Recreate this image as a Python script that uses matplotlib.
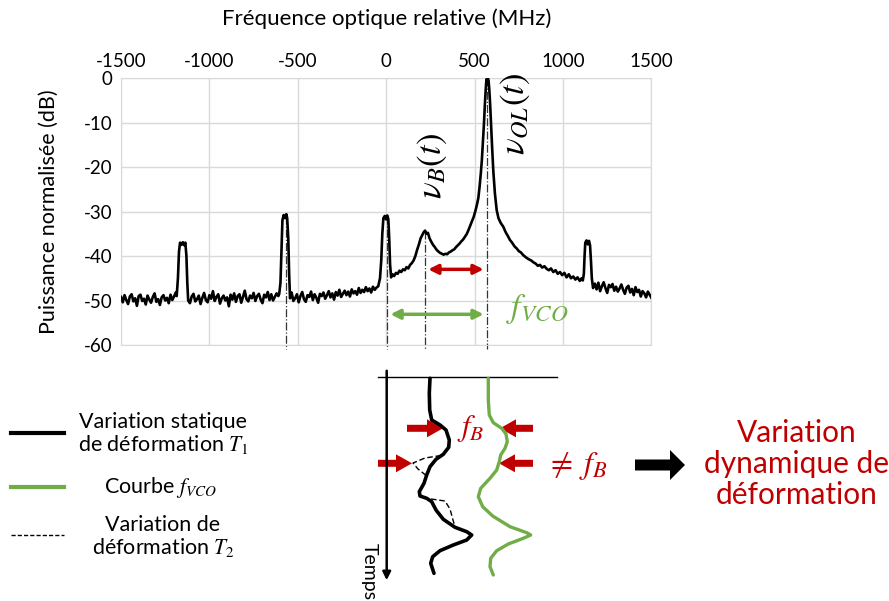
import numpy as np
import matplotlib.pyplot as plt
from matplotlib.patches import FancyArrow

plt.rcParams['font.family'] = ['Lato', 'DejaVu Sans']
plt.rcParams['mathtext.fontset'] = 'stix'
plt.rcParams['axes.unicode_minus'] = False

# spectre mesure (MHz, dB)
freq_a = list(range(-1500, -1189, 10))
db_a = [-49.2, -50.4, -48.8, -49.9, -50.8, -49.1, -48.6, -50.2, -49.5, -51.2, -49.0, -48.7,
        -50.1, -49.6, -50.9, -48.9, -49.8, -50.5, -49.2, -48.4, -50.3, -49.7, -51.0, -49.3,
        -48.8, -50.0, -49.4, -50.6, -48.7, -49.9, -49.1, -48.2]
freq_p1 = [-1185, -1178, -1172, -1166, -1158, -1150, -1142, -1136, -1130, -1125, -1120]
db_p1 = [-49.0, -45.0, -39.0, -37.0, -37.5, -36.9, -37.6, -37.0, -40.0, -46.0, -50.0]
freq_b = list(range(-1110, -609, 10))
db_b = [-50.6, -49.1, -48.5, -50.2, -49.7, -48.9, -50.8, -49.4, -48.3, -49.9, -50.4, -48.8,
        -49.6, -47.9, -50.1, -49.2, -48.6, -50.7, -49.5, -48.9, -50.0, -49.3, -51.3, -48.7,
        -49.8, -48.4, -50.3, -49.0, -48.6, -50.5, -49.2, -47.8, -49.7, -50.2, -48.9, -49.5,
        -48.3, -50.1, -49.0, -48.5, -49.8, -50.6, -48.7, -49.3, -48.1, -49.9, -48.6, -50.0,
        -49.2, -48.4, -49.0]
freq_p2 = [-605, -598, -592, -587, -580, -572, -565, -560, -554, -549, -544]
db_p2 = [-48.5, -46.0, -38.0, -32.0, -30.8, -31.5, -30.6, -31.5, -36.0, -44.0, -49.5]
freq_c = list(range(-535, -54, 10))
db_c = [-48.2, -50.1, -49.5, -48.6, -50.4, -49.0, -48.1, -49.7, -50.3, -48.8, -49.2, -48.0,
        -49.9, -48.6, -49.4, -50.5, -48.5, -49.0, -48.2, -49.6, -48.8, -47.9, -49.3, -48.4,
        -49.8, -48.1, -48.9, -47.6, -49.2, -48.5, -47.8, -48.8, -48.0, -49.1, -47.5, -48.4,
        -47.9, -48.7, -47.2, -48.3, -47.6, -48.1, -47.0, -47.9, -47.3, -48.2, -46.9, -47.6,
        -47.1]
freq_p3 = [-45, -35, -28, -22, -16, -8, 0, 6, 12, 17, 22, 28]
db_p3 = [-46.8, -45.0, -41.0, -35.0, -31.5, -31.0, -31.8, -30.9, -31.7, -36.0, -42.0, -44.8]
freq_d = [35, 45, 55, 65, 75, 85, 95, 105, 115, 125, 135, 145, 155, 165, 175, 185, 195, 205,
          213, 220, 228, 236, 245, 255, 265, 275, 285, 295, 305, 315, 325, 335, 345, 355, 365,
          375, 385, 395, 405, 415, 425, 435, 445, 455, 465, 475, 485, 495, 505, 513, 521, 528,
          535, 541, 547, 553, 558, 563, 567, 571, 575, 579, 583, 588, 593, 599, 606, 615, 625,
          635, 648, 662, 675, 688, 700, 712, 725, 738, 750, 762, 775, 790, 805, 820, 832, 845,
          858, 870, 882, 895, 908, 920, 932, 945, 958, 970, 983, 995, 1008, 1020, 1033, 1045,
          1058, 1070, 1082, 1095, 1105, 1112]
db_d = [-44.1, -44.5, -43.8, -44.0, -43.3, -43.6, -43.0, -43.2, -42.5, -42.8, -42.0, -41.6,
        -41.0, -40.0, -38.6, -37.4, -36.0, -35.2, -34.6, -34.3, -35.0, -34.8, -36.0, -36.8,
        -37.5, -38.0, -38.6, -39.0, -39.3, -39.5, -39.7, -39.5, -39.6, -39.2, -39.0, -38.7,
        -38.5, -38.0, -37.6, -37.2, -36.7, -36.3, -35.7, -35.1, -34.2, -33.2, -32.2, -31.2,
        -29.8, -28.5, -27.0, -24.5, -21.5, -18.5, -14.5, -10.2, -6.0, -2.5, -0.3, -0.8, 0.0,
        -0.6, -2.5, -6.0, -10.5, -15.5, -21.0, -26.0, -29.7, -31.5, -32.6, -33.4, -34.6,
        -35.5, -36.4, -37.0, -37.8, -38.3, -38.9, -39.2, -39.8, -40.3, -40.7, -41.0, -41.4,
        -41.7, -42.2, -42.0, -42.6, -42.3, -42.9, -43.2, -42.8, -43.6, -43.2, -44.0, -43.6,
        -44.3, -43.8, -44.8, -44.1, -45.0, -44.6, -45.3, -44.8, -45.6, -45.0, -45.5]
freq_p4 = [1118, 1122, 1126, 1133, 1140, 1147, 1153, 1158, 1163, 1170]
db_p4 = [-44.0, -40.0, -37.0, -36.5, -37.4, -36.6, -37.6, -41.0, -45.0, -47.2]
freq_e = list(range(1180, 1501, 10))
db_e = [-46.2, -47.5, -46.0, -47.9, -46.8, -45.9, -47.2, -48.3, -46.5, -47.0, -46.3, -47.8,
        -46.9, -48.0, -47.3, -46.4, -47.6, -48.5, -47.1, -46.7, -48.2, -47.4, -48.8, -47.0,
        -48.1, -47.6, -49.1, -47.9, -48.4, -49.3, -48.0, -48.7, -49.4]

freq = freq_a + freq_p1 + freq_b + freq_p2 + freq_c + freq_p3 + freq_d + freq_p4 + freq_e
puissance = db_a + db_p1 + db_b + db_p2 + db_c + db_p3 + db_d + db_p4 + db_e

# raies reperees (MHz, dB du sommet)
raies_f = [-568, 3, 219, 572]
raies_db = [-31, -31, -34.3, 0]

x_ticks = [-1500, -1000, -500, 0, 500, 1000, 1500]
y_ticks = [0, -10, -20, -30, -40, -50, -60]

# schema du bas (coordonnees du dessin)
t1_x = [430, 429.3, 429.7, 431.7, 440, 446, 449.3, 448.7, 443.3, 436, 430, 426.7, 424, 419.3,
        420, 426.7, 431.7, 436, 443.3, 455, 466.7, 471.7, 466.7, 453.3, 440, 432.7, 430.7, 434]
t1_y = [378.3, 393.3, 410, 420, 425, 430, 440, 447.3, 454.3, 459.3, 466.7, 475, 483.3, 491.7,
        496, 498.3, 501.7, 510, 519.3, 527.3, 531.7, 535, 540, 545, 550.7, 556.7, 563.3, 573.3]
vco_x = [488.3, 488.3, 489.3, 493.3, 501.7, 506, 507.3, 505, 500.7, 499.3, 496.7, 490, 480.7,
         478.3, 482.7, 492.7, 510, 526.7, 530.7, 523.3, 508.3, 496.7, 490.7, 490, 493.3]
vco_y = [378.3, 400, 415, 422.7, 428.3, 434, 441.7, 448.3, 455, 461.7, 470, 478.3, 488.3,
         496.7, 506.7, 516, 526.7, 532.7, 535, 538.3, 544, 550.7, 558.3, 566.7, 575]
t2a_x = [441, 425, 413, 418, 428]
t2a_y = [455.5, 458, 463, 469, 477]
t2b_x = [431, 445, 450, 453, 455]
t2b_y = [499, 501, 509, 520, 527]

rouge = '#C00000'
vert = '#70AD47'
gris = '#d9d9d9'

fig = plt.figure(figsize=(8.89, 6.01), dpi=100)
ax = fig.add_axes([121 / 889, 1 - 345 / 601, 530.4 / 889, 267 / 601])

ax.plot(freq, puissance, color='black', lw=1.9, zorder=3)
for f, d in zip(raies_f, raies_db):
    ax.plot([f, f], [d, -60.8], color='#333333', lw=0.9, ls='-.', clip_on=False, zorder=2)

ax.set_xlim(-1500, 1500)
ax.set_ylim(-60, 0)
ax.set_xticks(x_ticks)
ax.set_yticks(y_ticks)
ax.xaxis.tick_top()
ax.xaxis.set_label_position('top')
ax.tick_params(length=0, labelsize=13.5, pad=6)
ax.grid(color=gris, lw=1)
for s in ax.spines.values():
    s.set_color(gris)
ax.set_xlabel('Fréquence optique relative (MHz)', fontsize=16, labelpad=20)
ax.set_ylabel('Puissance normalisée (dB)', fontsize=15.5, labelpad=18)

ax.annotate('', xy=(222, -43), xytext=(567, -43),
            arrowprops=dict(arrowstyle='<|-|>', color=rouge, lw=2.5, mutation_scale=14))
ax.annotate('', xy=(8, -53.1), xytext=(567, -53.1),
            arrowprops=dict(arrowstyle='<|-|>', color=vert, lw=2.5, mutation_scale=14))
ax.text(259, -19.8, r'$\nu_B(t)$', rotation=90, fontsize=25, ha='center', va='center')
ax.text(728, -8.1, r'$\nu_{OL}(t)$', rotation=90, fontsize=25, ha='center', va='center')
ax.text(853, -51.9, r'$f_{VCO}$', color=vert, fontsize=24, ha='center', va='center')

# calque pour le schema et la legende
ov = fig.add_axes([0, 0, 1, 1])
ov.set_xlim(0, 889)
ov.set_ylim(601, 0)
ov.axis('off')

ov.plot([378, 557], [377.3, 377.3], color='black', lw=1)
ov.annotate('', xy=(386.7, 583), xytext=(386.7, 368),
            arrowprops=dict(arrowstyle='-|>', color='black', lw=1.8, mutation_scale=12))
ov.text(369, 572, 'Temps', rotation=-90, fontsize=14, ha='center', va='center')

ov.plot(t1_x, t1_y, color='black', lw=2.6, solid_joinstyle='round', solid_capstyle='round')
ov.plot(vco_x, vco_y, color=vert, lw=2.4, solid_joinstyle='round', solid_capstyle='round')
ov.plot(t2a_x, t2a_y, color='black', lw=1, ls=(0, (4, 2)))
ov.plot(t2b_x, t2b_y, color='black', lw=1, ls=(0, (4, 2)))

fleches = [(407, 428.3, 36), (533, 428.3, -33), (378, 463.3, 34), (533, 463.3, -34)]
for x0, y0, dx in fleches:
    ov.add_patch(FancyArrow(x0, y0, dx, 0, width=7, head_width=18, head_length=16,
                            length_includes_head=True, color=rouge, lw=0))
ov.add_patch(FancyArrow(635, 465, 50, 0, width=11, head_width=30, head_length=15,
                        length_includes_head=True, color='black', lw=0))

ov.text(471, 428, r'$f_B$', color=rouge, fontsize=22, ha='center', va='center')
ov.text(577, 466, r'$\neq\;f_B$', color=rouge, fontsize=23, ha='center', va='center')
ov.text(797, 464, 'Variation\ndynamique de\ndéformation', color=rouge, fontsize=21.5,
        ha='center', va='center', linespacing=1.12)

# legende
ov.plot([11, 64], [433.3, 433.3], color='black', lw=3)
ov.plot([11, 64], [486.7, 486.7], color=vert, lw=3)
ov.plot([11, 64], [535, 535], color='black', lw=1, ls=(0, (3, 1.5)))
ov.text(163, 434, 'Variation statique\nde déformation $T_1$', fontsize=15.5,
        ha='center', va='center', linespacing=1.1)
ov.text(160, 487, 'Courbe $f_{VCO}$', fontsize=15.5, ha='center', va='center')
ov.text(163, 537, 'Variation de\ndéformation $T_2$', fontsize=15.5,
        ha='center', va='center', linespacing=1.1)

fig.savefig('out.png', dpi=100)
